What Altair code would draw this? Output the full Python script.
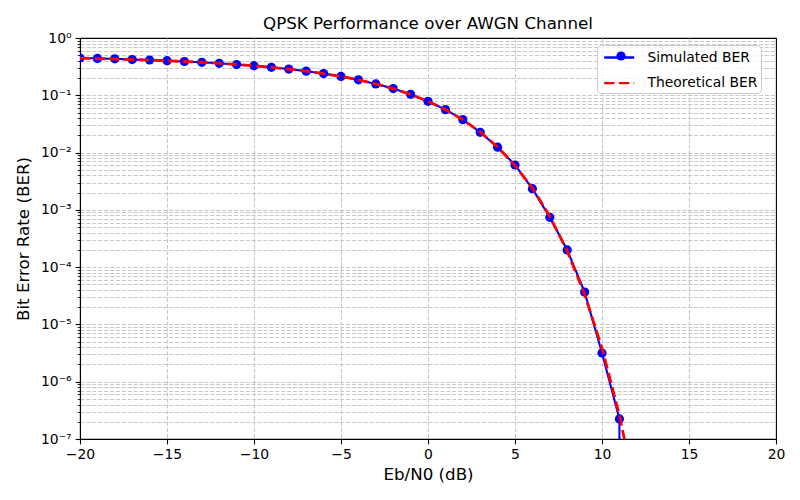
import altair as alt
import pandas as pd

ebn0 = list(range(-20, 21))
sim_ber = [0.447, 0.440, 0.433, 0.421, 0.413, 0.402, 0.389, 0.376, 0.362, 0.344,
           0.328, 0.308, 0.287, 0.264, 0.239, 0.213, 0.186, 0.158, 0.131, 0.104,
           0.0785, 0.0562, 0.0376, 0.0226, 0.0124, 0.00607, 0.00234, 7.4e-4, 2.0e-4,
           3.68e-5, 3.17e-6, 2.24e-7, 0, 0, 0, 0, 0, 0, 0, 0, 0]
theo_ber = [0.4438, 0.4370, 0.4294, 0.4208, 0.4113, 0.4007, 0.3889, 0.3758, 0.3612, 0.3451,
            0.3274, 0.3079, 0.2867, 0.2638, 0.2392, 0.2132, 0.1861, 0.1584, 0.1306, 0.1038,
            0.0786, 0.0563, 0.0375, 0.0229, 0.0125, 0.00595, 0.00239, 7.73e-4, 1.91e-4,
            3.36e-5, 3.87e-6, 2.61e-7, 9.0e-9, 1.3e-10, 6.8e-13, 9.0e-16, 2.3e-19,
            6.6e-24, 1.4e-29, 1.0e-36, 1.0e-45]
series_names = ["Simulated BER", "Theoretical BER"]
x_ticks = [-20, -15, -10, -5, 0, 5, 10, 15, 20]
y_ticks = [m * 10.0 ** k for k in range(-7, 0) for m in range(1, 10)] + [1.0]
y_labels = ["10⁰", "10⁻¹", "10⁻²", "10⁻³", "10⁻⁴", "10⁻⁵", "10⁻⁶", "10⁻⁷"]

df = pd.DataFrame({
    "x": ebn0 + ebn0,
    "ber": sim_ber + theo_ber,
    "series": [series_names[0]] * len(ebn0) + [series_names[1]] * len(ebn0),
})

FONT = "DejaVu Sans"
is_major = "abs(log(datum.value)/LN10 - round(log(datum.value)/LN10)) < 0.001"
label_arr = "[" + ",".join("'" + s + "'" for s in y_labels) + "]"

xaxis = alt.Axis(values=x_ticks, format="d", grid=True, gridDash=[4.1, 1.8], gridColor="#c8c8c8",
                 gridWidth=1.1,
                 gridOpacity={"condition": {"test": "abs(datum.value) >= 20", "value": 0}, "value": 1},
                 tickSize=4.9, tickWidth=1.1, tickColor="black",
                 domainColor="black", domainWidth=1.1, labelFontSize=13.9, labelColor="black",
                 labelFont=FONT, labelPadding=4.0, labelFlush=False, titleFont=FONT,
                 titleFontSize=16.7, titleFontWeight="normal", titleColor="black", titlePadding=5)
yaxis = alt.Axis(values=y_ticks, labelExpr=is_major + " ? " + label_arr + "[round(-log(datum.value)/LN10)] : ''",
                 labelOverlap=False, grid=True, gridDash=[4.1, 1.8], gridColor="#c8c8c8", gridWidth=1.1,
                 gridOpacity={"condition": {"test": "datum.value > 0.999 || datum.value < 1.001e-7", "value": 0},
                              "value": 1},
                 tickSize={"condition": {"test": is_major, "value": 4.9}, "value": 2.8},
                 tickWidth={"condition": {"test": is_major, "value": 1.1}, "value": 0.83},
                 tickColor="black", domainColor="black", domainWidth=1.1, labelFontSize=13.9,
                 labelColor="black", labelFont=FONT, labelPadding=4.0, titleFont=FONT,
                 titleFontSize=16.7, titleFontWeight="normal", titleColor="black", titlePadding=8)

leg = alt.Legend(orient="none", legendX=517, legendY=7, title=None,
                 symbolType="M-1.875,0L1.875,0", symbolSize=256, symbolOffset=9.7,
                 symbolStrokeWidth=2.4, labelFontSize=13.9, labelFont=FONT,
                 labelColor="black", labelOffset=18.7, padding=3, fillColor="rgba(255,255,255,0.8)",
                 strokeColor="#cccccc", cornerRadius=4, rowPadding=8.6)
leg2 = alt.Legend(orient="none", legendX=536, legendY=13, title=None, labelExpr="''", padding=0,
                  symbolFillColor="#0000ff", symbolStrokeColor="#0000ff", symbolSize=85,
                  symbolStrokeWidth=0, labelOffset=0, labelFontSize=1, zindex=2)

base = alt.Chart(df).transform_calculate(berp="max(datum.ber, 1e-300)")
X = alt.X("x:Q", scale=alt.Scale(domain=[-20, 20], nice=False, zero=False), axis=xaxis, title="Eb/N0 (dB)")
Y = alt.Y("berp:Q", scale=alt.Scale(type="log", domain=[1e-7, 1], nice=False), axis=yaxis,
          title="Bit Error Rate (BER)")
C = alt.Color("series:N", scale=alt.Scale(domain=series_names, range=["#0000ff", "#ff0000"]), legend=leg)
D = alt.StrokeDash("series:N", scale=alt.Scale(domain=series_names, range=[[1, 0], [10.3, 4.4]]), legend=leg)

sim = base.transform_filter(alt.datum.series == series_names[0])
theo = base.transform_filter(alt.datum.series == series_names[1])

sim_line = sim.mark_line(clip=True, strokeWidth=2.08).encode(x=X, y=Y, color=C, strokeDash=D)
sim_pts = sim.transform_calculate(mk="'sim'").mark_point(filled=True, size=85, opacity=1, clip=True).encode(
    x=X, y=Y, color=C,
    shape=alt.Shape("mk:N", scale=alt.Scale(domain=["sim"], range=["circle"]), legend=leg2))
theo_line = theo.mark_line(clip=True, strokeWidth=2.78).encode(x=X, y=Y, color=C, strokeDash=D)

chart = alt.layer(sim_line, sim_pts, theo_line).properties(
    width=696, height=401,
    autosize=alt.AutoSizeParams(type="none"),
    padding={"left": 72, "top": 30, "right": 10, "bottom": 48},
    title=alt.Title("QPSK Performance over AWGN Channel", fontSize=16.7, fontWeight="normal",
                    font=FONT, color="black", offset=-2),
).configure_view(stroke="black", strokeWidth=1.1).configure_legend(
    symbolBaseFillColor="#0000ff", symbolBaseStrokeColor="#0000ff")

chart.save("out.html", embed_options={"renderer": "svg", "actions": False})
